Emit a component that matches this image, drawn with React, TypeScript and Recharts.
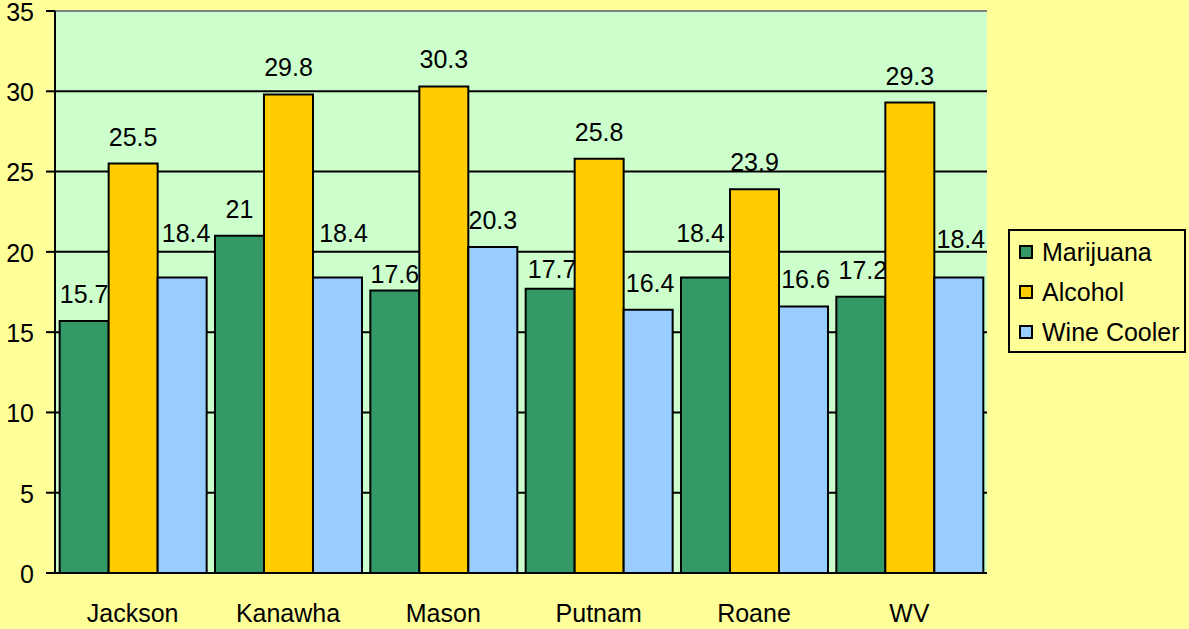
import React from "react";
import {
  BarChart,
  Bar,
  XAxis,
  YAxis,
  CartesianGrid,
  Legend,
  LabelList,
  ReferenceLine,
} from "recharts";

const categories = ["Jackson", "Kanawha", "Mason", "Putnam", "Roane", "WV"];
const marijuana = [15.7, 21, 17.6, 17.7, 18.4, 17.2];
const alcohol = [25.5, 29.8, 30.3, 25.8, 23.9, 29.3];
const wineCooler = [18.4, 18.4, 20.3, 16.4, 16.6, 18.4];
const yTicks = [0, 5, 10, 15, 20, 25, 30, 35];
const boundaryTicks = [0, 1, 2, 3, 4, 5, 6];

const seriesDefs = [
  { key: "Marijuana", color: "#339966" },
  { key: "Alcohol", color: "#FFCC00" },
  { key: "Wine Cooler", color: "#99CCFF" },
];

const data = categories.map((c, i) => ({
  name: c,
  Marijuana: marijuana[i],
  Alcohol: alcohol[i],
  "Wine Cooler": wineCooler[i],
}));

// Manual nudges of individual data labels (as in the original chart), in px
const labelNudge: Record<string, { dx: number[]; dy: number[] }> = {
  Marijuana: { dx: [0, 0, 0, 2, -5, 2], dy: [0, 0, 11, 7, -18, 0] },
  Alcohol: { dx: [0, 0, 0, 0, 0, 0], dy: [0, 0, 0, 0, 0, 0] },
  "Wine Cooler": { dx: [4, 6, 0, 2, 2, 2], dy: [-18, -18, 0, 0, 0, -12] },
};

const FONT = "'Liberation Sans', Arial, sans-serif";
const FS = 25;

const makeLabel = (key: string) => (p: any) => {
  const vb = p.viewBox || {};
  const i = p.index ?? 0;
  const n = labelNudge[key];
  const cx = (vb.x ?? p.x) + (vb.width ?? p.width) / 2 + (n ? n.dx[i] : 0);
  const top = Math.min(vb.y ?? p.y, (vb.y ?? p.y) + (vb.height ?? 0));
  const y = top - 18 + (n ? n.dy[i] : 0);
  return (
    <text
      x={cx}
      y={y}
      textAnchor="middle"
      fill="#000"
      fontSize={FS}
      fontFamily={FONT}
    >
      {p.value}
    </text>
  );
};

const LegendBox = () => (
  <div
    style={{
      boxSizing: "border-box",
      border: "2px solid #000",
      background: "#FFFF99",
      padding: "1px 0 1px 9px",
      fontFamily: FONT,
      fontSize: FS,
      color: "#000",
      width: 178,
      height: 124,
    }}
  >
    {seriesDefs.map((s) => (
      <div
        key={s.key}
        style={{ display: "flex", alignItems: "center", height: 40, whiteSpace: "nowrap" }}
      >
        <span
          style={{
            display: "inline-block",
            width: 10,
            height: 10,
            background: s.color,
            border: "2px solid #000",
            marginRight: 9,
            flex: "none",
          }}
        />
        <span>{s.key}</span>
      </div>
    ))}
  </div>
);

export default function App() {
  return (
    <div
      style={{
        position: "absolute",
        left: 0,
        top: 0,
        width: 1189,
        height: 629,
        background: "#FFFF99",
      }}
    >
      <BarChart
        width={1189}
        height={629}
        data={data}
        margin={{ top: 11, right: 24, bottom: 0, left: 0 }}
        barCategoryGap="3%"
        barGap={0}
      >
        <CartesianGrid
          vertical={false}
          stroke="#000"
          strokeWidth={2}
          fill="#CCFFCC"
          fillOpacity={1}
        />
        <XAxis
          xAxisId="b"
          type="number"
          domain={[0, 6]}
          ticks={boundaryTicks}
          tick={false}
          tickLine={{ stroke: "#000", strokeWidth: 2 }}
          axisLine={{ stroke: "#000", strokeWidth: 2 }}
          tickSize={9}
          height={0}
          allowDataOverflow
        />
        <XAxis
          dataKey="name"
          tickLine={false}
          axisLine={false}
          tickSize={0}
          tickMargin={31}
          height={56}
          tick={{ fill: "#000", fontSize: FS, fontFamily: FONT }}
        />
        <YAxis
          domain={[0, 35]}
          ticks={yTicks}
          width={55}
          tickSize={9}
          tickMargin={12}
          interval={0}
          axisLine={{ stroke: "#000", strokeWidth: 2 }}
          tickLine={{ stroke: "#000", strokeWidth: 2 }}
          tick={{ fill: "#000", fontSize: FS, fontFamily: FONT, dy: 1 }}
        />
        <ReferenceLine y={35} stroke="#808080" strokeWidth={2} />
        <ReferenceLine x={6} xAxisId="b" stroke="#808080" strokeWidth={2} />
        {seriesDefs.map((s) => (
          <Bar
            key={s.key}
            dataKey={s.key}
            fill={s.color}
            stroke="#000"
            strokeWidth={2}
            isAnimationActive={false}
          >
            <LabelList dataKey={s.key} content={makeLabel(s.key)} />
          </Bar>
        ))}
        <Legend
          layout="vertical"
          align="right"
          verticalAlign="middle"
          content={() => <LegendBox />}
          wrapperStyle={{ right: 3, top: 229 }}
        />
      </BarChart>
    </div>
  );
}
